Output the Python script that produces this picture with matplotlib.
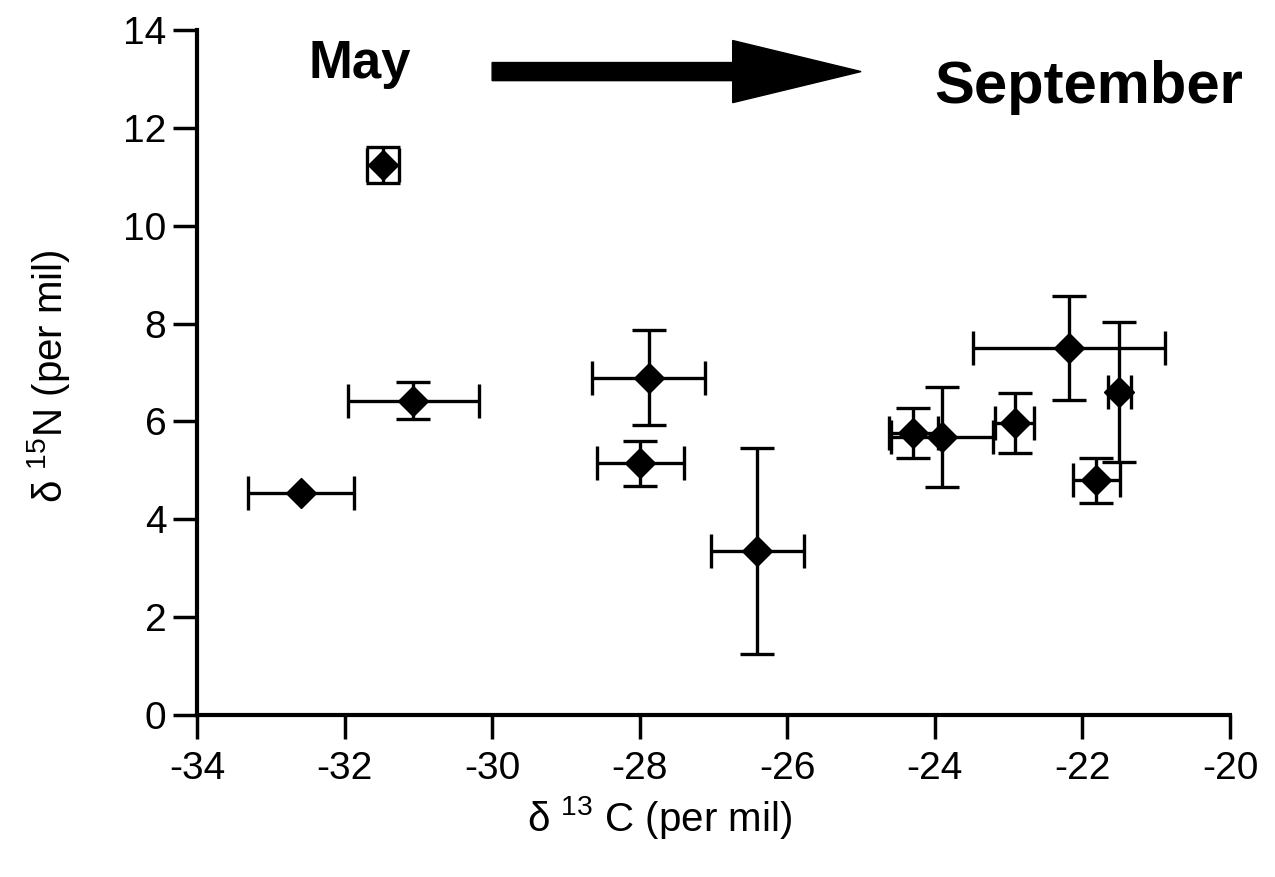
import numpy as np
import matplotlib
matplotlib.use('Agg')
import matplotlib.pyplot as plt

plt.rcParams['font.family'] = ['Liberation Sans', 'DejaVu Sans']
plt.rcParams['mathtext.fontset'] = 'custom'
plt.rcParams['mathtext.rm'] = 'Liberation Sans'
plt.rcParams['mathtext.default'] = 'regular'

# d13C / d15N means with error bars
d13c = [-32.59, -31.07, -31.48, -27.88, -27.99, -26.41, -24.29, -23.90, -22.92, -22.18, -21.50, -21.81]
d15n = [4.54, 6.42, 11.24, 6.89, 5.15, 3.35, 5.76, 5.68, 5.97, 7.50, 6.60, 4.80]
d13c_err = [0.72, 0.89, 0.22, 0.76, 0.59, 0.63, 0.33, 0.69, 0.26, 1.30, 0.16, 0.32]
d15n_err = [np.nan, 0.38, 0.36, 0.97, 0.46, 2.10, 0.51, 1.03, 0.62, 1.07, 1.43, 0.46]

xticks = [-34, -32, -30, -28, -26, -24, -22, -20]
yticks = [0, 2, 4, 6, 8, 10, 12, 14]

fig = plt.figure(figsize=(12.75, 8.77), dpi=100)
ax = fig.add_axes([0.1545, 0.1847, 0.8102, 0.7811])

ax.errorbar(d13c, d15n, xerr=d13c_err, yerr=d15n_err, fmt='D', color='black',
            markersize=15, ecolor='black', elinewidth=2.4, capsize=12, capthick=2.4)

ax.set_xlim(-34, -20)
ax.set_ylim(0, 14)
ax.set_xticks(xticks)
ax.set_yticks(yticks)
ax.set_xticklabels([str(t) for t in xticks])

for s in ['top', 'right']:
    ax.spines[s].set_visible(False)
for s in ['left', 'bottom']:
    ax.spines[s].set_linewidth(3)

ax.tick_params(axis='both', direction='out', length=17, width=2.5, labelsize=28)
ax.tick_params(axis='y', pad=5)
ax.tick_params(axis='x', pad=9)

ax.set_xlabel('δ $^{13}$ C (per mil)', fontsize=29)
ax.xaxis.set_label_coords(0.448, -0.115)
ax.set_ylabel('δ $^{15}$N (per mil)', fontsize=29)
ax.yaxis.set_label_coords(-0.121, 0.495)

# season arrow
ax.arrow(-30, 13.15, 5, 0, width=0.37, head_width=1.27, head_length=1.74,
         length_includes_head=True, color='black', clip_on=False)
ax.text(-31.79, 13.3, 'May', fontsize=38, fontweight='bold', ha='center', va='center')
ax.text(-21.92, 12.83, 'September', fontsize=43, fontweight='bold', ha='center', va='center')

plt.savefig('out.png', dpi=100)
